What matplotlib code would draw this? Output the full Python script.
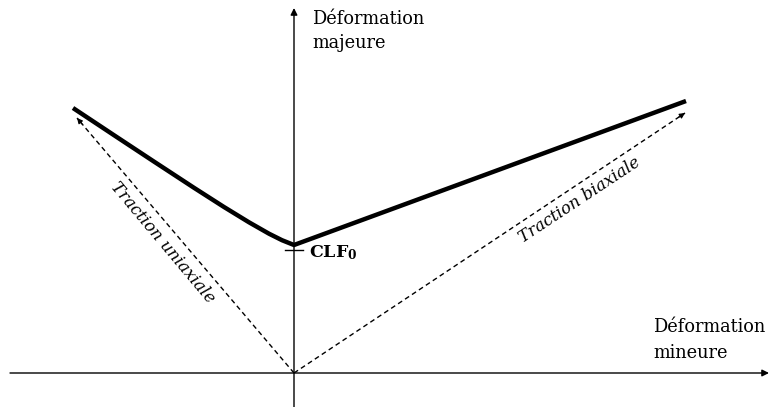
import matplotlib.pyplot as plt
import numpy as np

plt.rcParams['mathtext.fontset'] = 'dejavuserif'

# forming limit curve (arbitrary units, origin at axes crossing)
minor = [-221, -180, -140, -100, -70, -45, -25, -12, 0, 392]
major = [265, 237.8, 211.4, 185.2, 166, 150.7, 139.3, 132.8, 128, 272]

# strain paths (end points of the dashed arrows)
uni_tip = (-217, 255)
bi_tip = (391, 260)

clf0 = 123

fig = plt.figure(figsize=(7.71, 4.07), dpi=100)
ax = fig.add_axes([0, 0, 1, 1])
ax.set_xlim(-294, 477)
ax.set_ylim(-34, 373)
ax.axis('off')

serif = ['DejaVu Serif']

# axes with arrows
ax.annotate('', xy=(475, 0), xytext=(-284, 0),
            arrowprops=dict(arrowstyle='-|>', mutation_scale=10, lw=1.0, color='k',
                            shrinkA=0, shrinkB=0))
ax.annotate('', xy=(0, 365), xytext=(0, -34),
            arrowprops=dict(arrowstyle='-|>', mutation_scale=10, lw=1.0, color='k',
                            shrinkA=0, shrinkB=0))

# limit curve
ax.plot(minor, major, color='k', lw=3.2, solid_joinstyle='round', solid_capstyle='butt')

# strain paths
for tip in [uni_tip, bi_tip]:
    ax.plot([0, tip[0]], [0, tip[1]], color='k', lw=1.0, ls=(0, (3.5, 2.5)))
    d = np.array(tip, dtype=float)
    back = d - 8 * d / np.hypot(*d)
    ax.annotate('', xy=tip, xytext=tuple(back),
                arrowprops=dict(arrowstyle='-|>', mutation_scale=8, lw=0.8, color='k',
                                shrinkA=0, shrinkB=0))

# CLF0 tick and label
ax.plot([-9, 9], [clf0, clf0], color='k', lw=1.0)
ax.text(15, clf0 - 3, r'$\mathbf{CLF_0}$', fontsize=12.5, va='center', ha='left')

# axis labels
ax.text(18, 342, 'Déformation\nmajeure', fontsize=12.8, family=serif, va='center',
        ha='left', linespacing=1.5)
ax.text(359, 33, 'Déformation\nmineure', fontsize=12.8, family=serif, va='center',
        ha='left', linespacing=1.5)

# path labels
ax.text(-131, 130, 'Traction uniaxiale', fontsize=12, family=serif, style='italic',
        rotation=-50, ha='center', va='center', rotation_mode='anchor')
ax.text(286, 173, 'Traction biaxiale', fontsize=12, family=serif, style='italic',
        rotation=33.5, ha='center', va='center', rotation_mode='anchor')

fig.savefig('out.png', dpi=100)
